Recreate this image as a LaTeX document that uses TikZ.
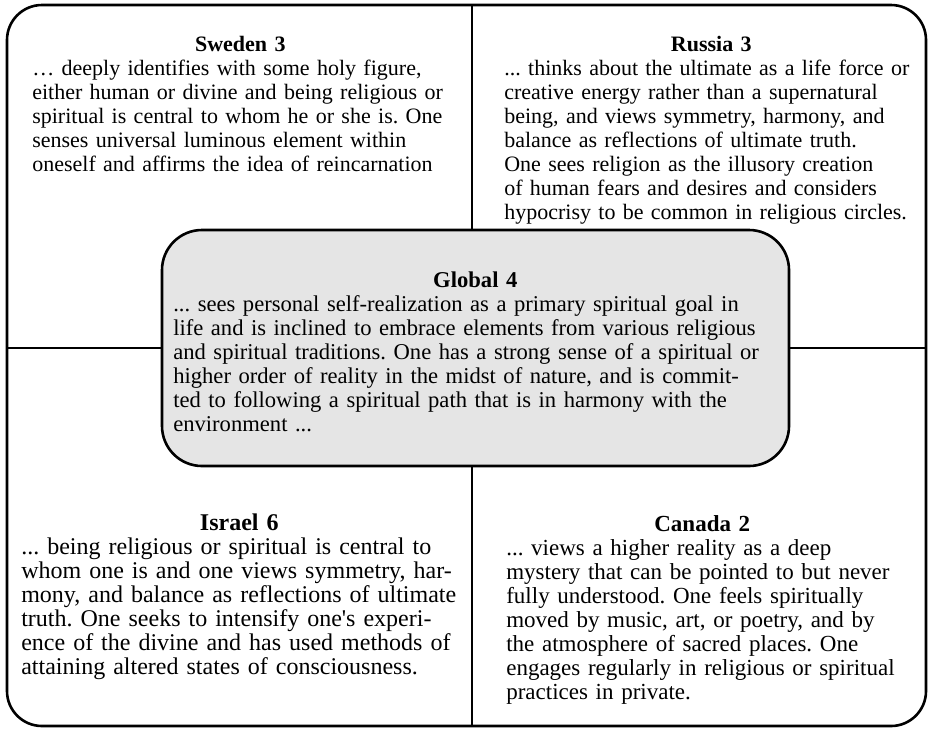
\documentclass[tikz,border=0pt]{standalone}
\usepackage{fontspec}
\setmainfont{Liberation Serif}
\usetikzlibrary{positioning}
\newcommand\jline[1]{\par\hbox to\hsize{#1}}
\newcommand\rline[1]{\par\hbox{#1}}
\newcommand\headline[1]{\par\hbox to\hsize{\hss\textbf{#1}\hss}}
\frenchspacing
\begin{document}
\begin{tikzpicture}[x=0.5pt,y=-0.5pt,line width=1.3pt,
  blurb/.style={anchor=north west,inner sep=0pt,font=\fontsize{#1}{12}\selectfont},
  blurb/.default=11,
  globalbox/.style={draw,fill=black!10,rounded corners=20pt,minimum width=313.5pt,minimum height=118pt,inner sep=0pt}]
\useasboundingbox (0,0) rectangle (929,729);

\draw[rounded corners=17.5pt] (7,5) rectangle (926,726);
\coordinate (top) at (472,5);
\coordinate (bot) at (472,726);
\coordinate (lft) at (7,348);
\coordinate (rgt) at (926,348);
\node[globalbox] (global) at (475.5,348) {};
\draw (top) -- (top |- global.north);
\draw (bot |- global.south) -- (bot);
\draw (lft) -- (global.west);
\draw (global.east) -- (rgt);

\node[blurb,text width=208pt] (sweden) at (31,26) {\headline{Sweden 3}
  \jline{\ldots{} deeply identifies with some holy figure,}
  \jline{either human or divine and being religious or}
  \jline{spiritual is central to whom he or she is. One}
  \jline{senses universal luminous element within}
  \jline{oneself and affirms the idea of reincarnation}};
\node[blurb,text width=207pt] (russia) at (503,26) {\headline{Russia 3}
  \rline{... thinks about the ultimate as a life force or}
  \rline{creative energy rather than a supernatural}
  \rline{being, and views symmetry, harmony, and}
  \rline{balance as reflections of ultimate truth.}
  \rline{One sees religion as the illusory creation}
  \rline{of human fears and desires and considers}
  \rline{hypocrisy to be common in religious circles.}};
\node[blurb=11.3,text width=302pt] (globaltext) at (172,262) {\headline{Global 4}
  \rline{... sees personal self-realization as a primary spiritual goal in}
  \rline{life and is inclined to embrace elements from various religious}
  \rline{and spiritual traditions. One has a strong sense of a spiritual or}
  \rline{higher order of reality in the midst of nature, and is commit-}
  \rline{ted to following a spiritual path that is in harmony with the}
  \rline{environment ...}};
\node[blurb=12,text width=218pt] (israel) at (20,505) {\headline{Israel 6}
  \rline{... being religious or spiritual is central to}
  \rline{whom one is and one views symmetry, har-}
  \rline{mony, and balance as reflections of ultimate}
  \rline{truth. One seeks to intensify one\textquotesingle s experi-}
  \rline{ence of the divine and has used methods of}
  \rline{attaining altered states of consciousness.}};
\node[blurb=11.5,text width=196pt] (canada) at (505,506) {\headline{Canada 2}
  \rline{... views a higher reality as a deep}
  \rline{mystery that can be pointed to but never}
  \rline{fully understood. One feels spiritually}
  \rline{moved by music, art, or poetry, and by}
  \rline{the atmosphere of sacred places. One}
  \rline{engages regularly in religious or spiritual}
  \rline{practices in private.}};
\end{tikzpicture}
\end{document}
